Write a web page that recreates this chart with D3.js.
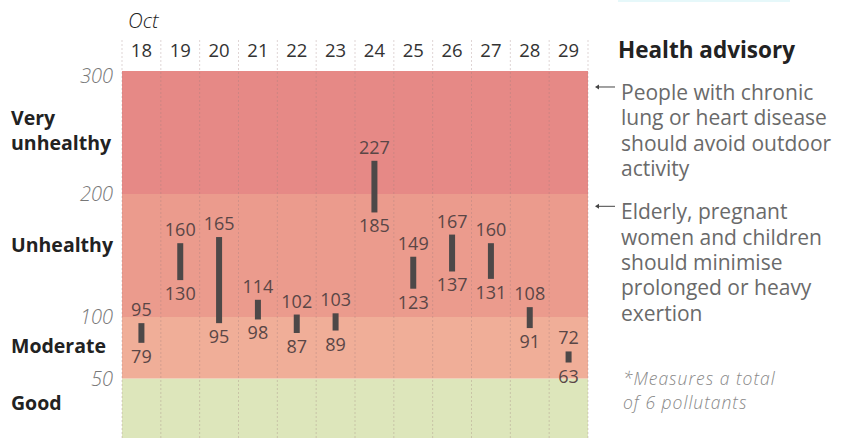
<!DOCTYPE html>
<html>
<head>
<meta charset="utf-8">
<script src="https://cdn.jsdelivr.net/npm/d3@7.9.0/dist/d3.min.js"></script>
<style>
  html, body { margin: 0; padding: 0; background: #fff; }
  svg { display: block; font-family: "Open Sans", sans-serif; }
</style>
</head>
<body>
<div id="chart"></div>
<script>
// data
const days = ["18", "19", "20", "21", "22", "23", "24", "25", "26", "27", "28", "29"];
const lows = [79, 130, 95, 98, 87, 89, 185, 123, 137, 131, 91, 63];
const highs = [95, 160, 165, 114, 102, 103, 227, 149, 167, 160, 108, 72];

const bandNames = ["Good", "Moderate", "Unhealthy", "Very unhealthy"];
const bandLow = [0, 50, 100, 200];
const bandHigh = [50, 100, 200, 300];
const bandColors = ["#dde6bb", "#f0ae98", "#eb9b8d", "#e68986"];
const yTicks = [50, 100, 200, 300];

const advisories = [
  { at: 287, lines: ["People with chronic", "lung or heart disease", "should avoid outdoor", "activity"] },
  { at: 190, lines: ["Elderly, pregnant", "women and children", "should minimise", "prolonged or heavy", "exertion"] },
];

const width = 842;
const height = 438;

const svg = d3.select("#chart")
  .append("svg")
  .attr("width", width)
  .attr("height", height);

const x = d3.scaleBand().domain(days).range([122, 588]).padding(0);
const y = d3.scaleLinear().domain([0, 300]).range([440, 71]);

// bands
svg.append("g")
  .selectAll("rect")
  .data(bandNames)
  .join("rect")
  .attr("x", x.range()[0])
  .attr("width", x.range()[1] - x.range()[0])
  .attr("y", (d, i) => y(bandHigh[i]))
  .attr("height", (d, i) => y(bandLow[i]) - y(bandHigh[i]))
  .attr("fill", (d, i) => bandColors[i]);

// dotted column separators
const edges = days.map((d) => x(d)).concat([x.range()[1]]);
svg.append("g")
  .selectAll("line")
  .data(edges)
  .join("line")
  .attr("x1", (d) => d)
  .attr("x2", (d) => d)
  .attr("y1", 40)
  .attr("y2", height)
  .attr("stroke", "#9a7a7a")
  .attr("stroke-opacity", 0.4)
  .attr("stroke-width", 0.8)
  .attr("stroke-dasharray", "2,2");

// day axis on top
const xAxis = svg.append("g")
  .attr("transform", "translate(0,57)")
  .call(d3.axisTop(x).tickSize(0).tickPadding(0));
xAxis.select(".domain").remove();
xAxis.selectAll("text")
  .attr("font-size", 18.5)
  .attr("font-family", "Open Sans, sans-serif")
  .attr("fill", "#333");

svg.append("text")
  .attr("x", 128)
  .attr("y", 28)
  .attr("font-size", 20.5)
  .attr("font-style", "italic")
  .attr("font-weight", 300)
  .attr("fill", "#222")
  .text("Oct");

// y axis
const yAxis = svg.append("g")
  .attr("transform", "translate(113,0)")
  .call(d3.axisLeft(y).tickValues(yTicks).tickSize(0).tickPadding(0));
yAxis.select(".domain").remove();
yAxis.selectAll("text")
  .attr("font-size", 20)
  .attr("font-family", "Open Sans, sans-serif")
  .attr("font-style", "italic")
  .attr("font-weight", 300)
  .attr("fill", "#777")
  .attr("dy", (d) => (d === 300 ? "0.55em" : "0.34em"));

// band category labels
const catLabels = svg.append("g")
  .selectAll("text")
  .data(bandNames)
  .join("text")
  .attr("x", 11)
  .attr("y", (d, i) => y((bandLow[i] + bandHigh[i]) / 2))
  .attr("font-size", 19.5)
  .attr("font-weight", 700)
  .attr("fill", "#222");
catLabels.each(function (d) {
  const words = d === "Very unhealthy" ? ["Very", "unhealthy"] : [d];
  const t = d3.select(this);
  const off = { "Very unhealthy": -0.4, "Unhealthy": -0.17, "Moderate": 0.27, "Good": 0.05 }[d];
  words.forEach((w, k) => {
    t.append("tspan")
      .attr("x", 11)
      .attr("dy", k === 0 ? `${off}em` : "1.28em")
      .text(w);
  });
});

// range bars
const barW = 6;
const bars = svg.append("g");
bars.selectAll("rect")
  .data(days)
  .join("rect")
  .attr("x", (d) => x(d) + x.bandwidth() / 2 - barW / 2)
  .attr("y", (d, i) => y(highs[i]))
  .attr("width", barW)
  .attr("height", (d, i) => y(lows[i]) - y(highs[i]))
  .attr("fill", "#4d4848");

bars.selectAll("text.hi")
  .data(days)
  .join("text")
  .attr("class", "hi")
  .attr("x", (d) => x(d) + x.bandwidth() / 2)
  .attr("y", (d, i) => y(highs[i]) - 7)
  .attr("text-anchor", "middle")
  .attr("font-size", 18)
  .attr("fill", "#5a4646")
  .text((d, i) => highs[i]);

bars.selectAll("text.lo")
  .data(days)
  .join("text")
  .attr("class", "lo")
  .attr("x", (d) => x(d) + x.bandwidth() / 2)
  .attr("y", (d, i) => y(lows[i]) + 20)
  .attr("text-anchor", "middle")
  .attr("font-size", 18)
  .attr("fill", "#5a4646")
  .text((d, i) => lows[i]);

// health advisory
svg.append("text")
  .attr("x", 618)
  .attr("y", 58)
  .attr("font-size", 22.5)
  .attr("font-weight", 700)
  .attr("fill", "#222")
  .text("Health advisory");

advisories.forEach((a) => {
  const ay = y(a.at);
  svg.append("line")
    .attr("x1", 598).attr("x2", 615)
    .attr("y1", ay).attr("y2", ay)
    .attr("stroke", "#444").attr("stroke-width", 1);
  svg.append("path")
    .attr("d", `M595,${ay} l4,-2.5 l0,5 z`)
    .attr("fill", "#444");
  const t = svg.append("text")
    .attr("x", 621)
    .attr("y", ay + 13)
    .attr("font-size", 21)
    .attr("fill", "#6a6a6a");
  a.lines.forEach((l, k) => {
    t.append("tspan").attr("x", 621).attr("dy", k === 0 ? 0 : 25.3).text(l);
  });
});

// footnote
const note = svg.append("text")
  .attr("x", 623)
  .attr("y", 385)
  .attr("font-size", 17.5)
  .attr("font-style", "italic")
  .attr("font-weight", 300)
  .attr("letter-spacing", 1)
  .attr("fill", "#888");
note.append("tspan").attr("x", 623).text("*Measures a total");
note.append("tspan").attr("x", 623).attr("dy", 24).text("of 6 pollutants");

// faint box edge at the top right
svg.append("rect")
  .attr("x", 618).attr("y", 0)
  .attr("width", 172).attr("height", 2)
  .attr("fill", "#e6f8fa");
</script>
</body>
</html>
